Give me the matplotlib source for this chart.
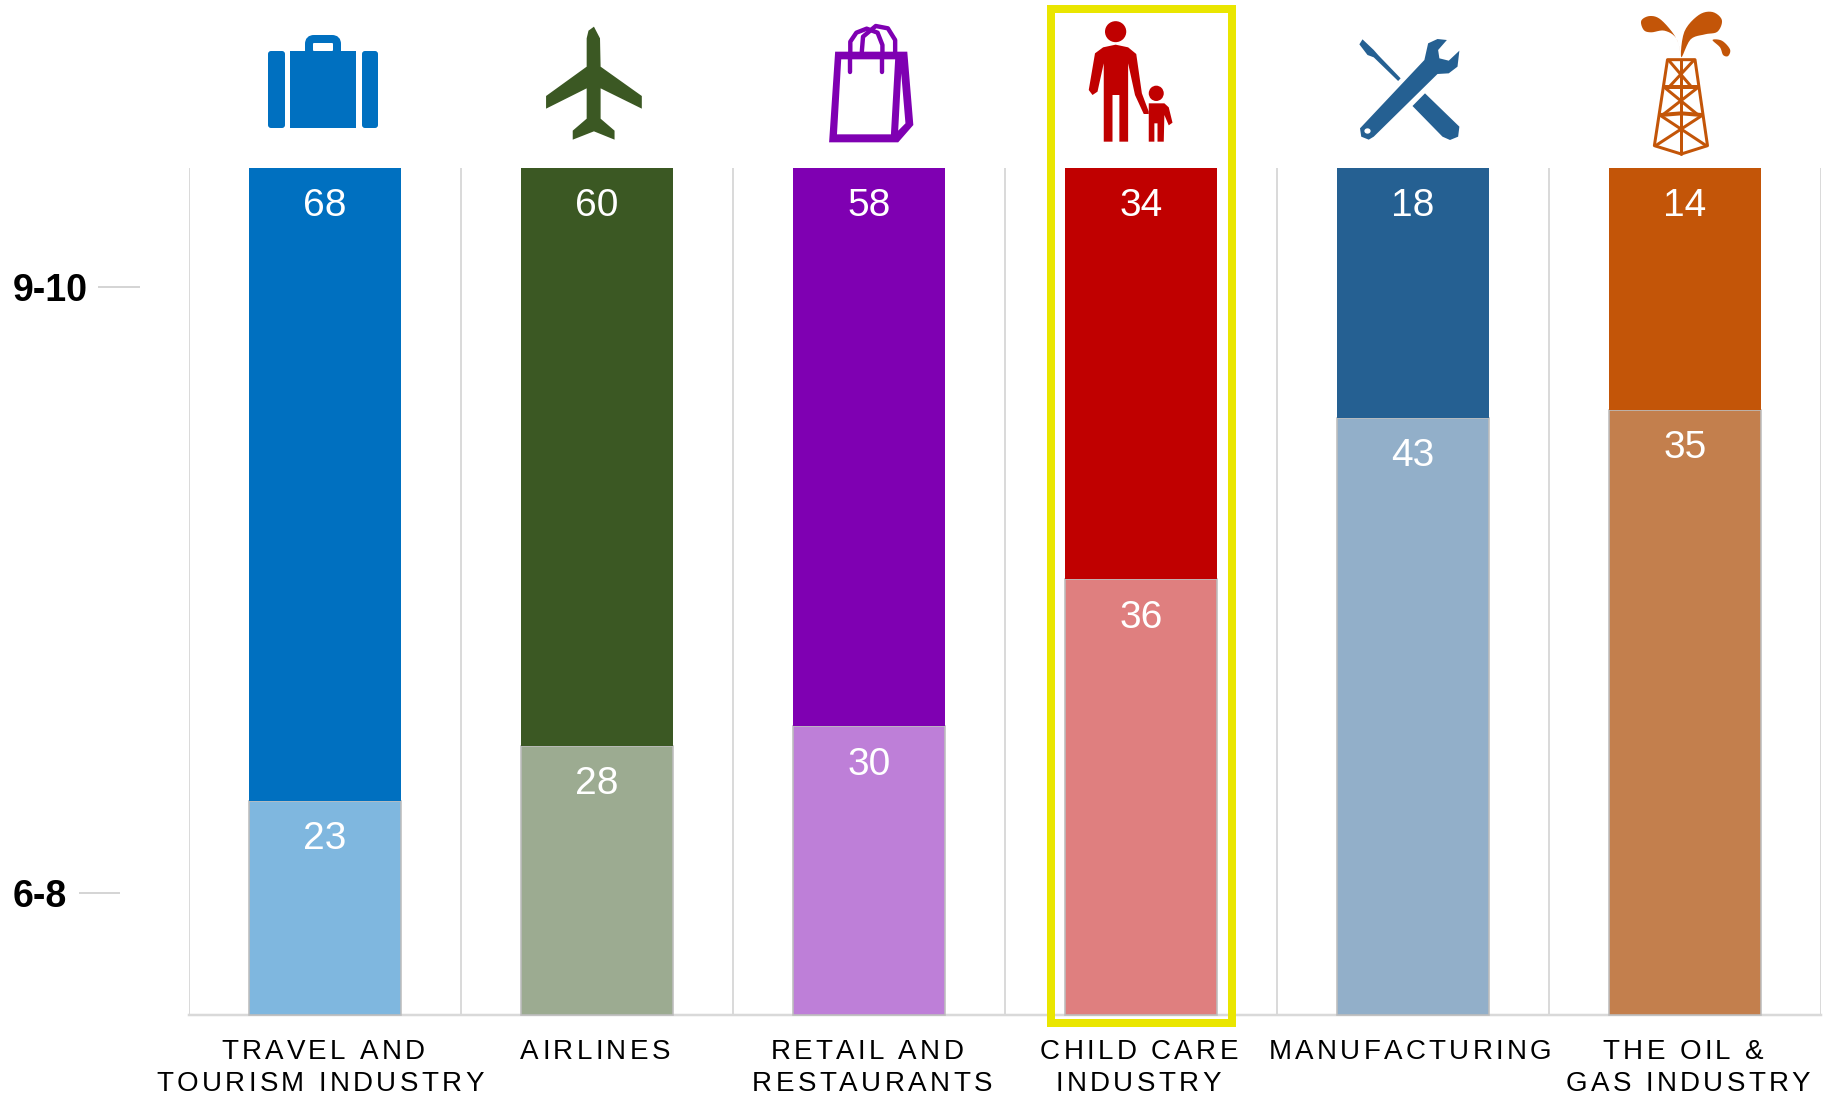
import numpy as np
import matplotlib
matplotlib.use("Agg")
import matplotlib.pyplot as plt
import matplotlib.font_manager as fm
from matplotlib.font_manager import FontProperties
from matplotlib.ft2font import LoadFlags
from matplotlib.patches import Ellipse, FancyBboxPatch, Polygon, Rectangle
from matplotlib.text import Text
from matplotlib.transforms import Bbox, blended_transform_factory

categories = ["TRAVEL AND\nTOURISM INDUSTRY", "AIRLINES", "RETAIL AND\nRESTAURANTS",
              "CHILD CARE\nINDUSTRY", "MANUFACTURING", "THE OIL &\nGAS INDUSTRY"]
scores_9_10 = [68, 60, 58, 34, 18, 14]
scores_6_8 = [23, 28, 30, 36, 43, 35]
top_colors = ["#0070C0", "#3B5823", "#7F00B2", "#C00000", "#256092", "#C35508"]
low_colors = ["#7FB7DF", "#9CAB91", "#BE7FD8", "#DF7F7F", "#92AFC9", "#C37F4D"]
band_labels = ["9-10", "6-8"]
band_positions = [86.0, 14.4]
band_tick_px = [(98, 140), (79, 120)]

W, H = 1829, 1093
DPI = 100
PX = 72 / DPI
FONT = "Liberation Sans"


class SpacedText(Text):
    """A single text artist drawn with letter spacing (pixels)."""

    def __init__(self, *args, tracking=0.0, line_px=32.0, shifts=None, **kw):
        super().__init__(*args, **kw)
        self.tracking = tracking
        self.line_px = line_px
        self.shifts = shifts or {}

    def _advances(self, line):
        font = fm.get_font(fm.findfont(self.get_fontproperties()))
        font.set_size(self.get_fontsize(), DPI)
        out = []
        for ch in line:
            g = font.load_char(ord(ch), flags=LoadFlags.NO_HINTING)
            out.append(g.linearHoriAdvance / 65536 + self.tracking)
        return out

    def draw(self, renderer):
        x0, y0 = self.get_transform().transform(self.get_position())
        for n, line in enumerate(self.get_text().split("\n")):
            adv = self._advances(line)
            x = x0 - (sum(adv) - self.tracking) / 2 + self.shifts.get(n, 0)
            y = y0 - n * self.line_px
            for ch, a in zip(line, adv):
                if ch != " ":
                    t = Text(x, y, ch, color=self.get_color(), fontproperties=self.get_fontproperties(),
                             ha="left", va="baseline", transform=None)
                    t.set_figure(self.get_figure())
                    t.draw(renderer)
                x += a

    def get_window_extent(self, renderer=None, dpi=None):
        x0, y0 = self.get_transform().transform(self.get_position())
        lines = self.get_text().split("\n")
        w = max(sum(self._advances(l)) for l in lines)
        size = self.get_fontsize() / PX
        return Bbox([[x0 - w / 2, y0 - (len(lines) - 1) * self.line_px],
                     [x0 + w / 2, y0 + 0.75 * size]])


fig = plt.figure(figsize=(W / DPI, H / DPI), dpi=DPI, facecolor="white")
L, R, T, B = 189, 1821, 168, 1015
ax = fig.add_axes([L / W, 1 - B / H, (R - L) / W, (B - T) / H])
over = fig.add_axes([0, 0, 1, 1], zorder=5)
over.set_xlim(0, W)
over.set_ylim(H, 0)
over.axis("off")
over.patch.set_alpha(0)

x = np.arange(len(categories))
tot = np.array(scores_9_10) + np.array(scores_6_8)
low = np.array(scores_6_8) / tot * 100
high = np.array(scores_9_10) / tot * 100
BAR = 0.561

ax.bar(x, low, BAR, color=low_colors, edgecolor="#BDBDBD", linewidth=1.6 * PX, zorder=3, clip_on=False)
ax.bar(x, high, BAR, bottom=low, color=top_colors, linewidth=0, zorder=4)
ax.set_xlim(-0.5, len(x) - 0.5)
ax.set_ylim(0, 100)
ax.set_xticks(np.arange(-0.5, len(x)))
ax.set_yticks([])
ax.tick_params(length=0, labelbottom=False)
ax.grid(axis="x", color="#D6D6D6", linewidth=1.8 * PX, zorder=1)
for s in ax.spines.values():
    s.set_visible(False)
ax.axhline(0, color="#D9D9D9", linewidth=2.5 * PX, zorder=2, clip_on=False)

offset = -38.5 * PX
for i in x:
    for val, top in ((scores_9_10[i], 100), (scores_6_8[i], low[i])):
        ax.annotate(str(val), (i, top), xytext=(0, offset), textcoords="offset points",
                    ha="center", va="center", color="white", family=FONT, fontsize=28, zorder=6)

# band labels and their short ticks
tr = blended_transform_factory(over.transData, ax.transData)
for lab, pos, (x1, x2) in zip(band_labels, band_positions, band_tick_px):
    over.text(13, pos, lab, transform=tr, ha="left", va="center_baseline",
              family=FONT, fontweight="bold", fontsize=27, color="black")
    over.plot([x1, x2], [pos, pos], transform=tr, color="#C8C8C8", lw=1.5 * PX, solid_capstyle="butt")

# category labels, letter spaced
prop = FontProperties(family=FONT, size=20)
line_shifts = [{0: -2, 1: -5}, {0: -2}, {0: -2, 1: 3}, {0: -2, 1: -3}, {0: -3}, {0: -2, 1: 3}]
tx = blended_transform_factory(ax.transData, over.transData)
for i, c in enumerate(categories):
    st = SpacedText(i, 1059, c, tracking=3.3, line_px=32, shifts=line_shifts[i], ha="center",
                    color="black", fontproperties=prop, transform=tx)
    over.add_artist(st)

# highlight frame
over.add_patch(Rectangle((1051.4, 9), 180.2, 1013.7, fill=False, edgecolor="#EAE600",
                         linewidth=8 * PX, joinstyle="miter", zorder=7))


# --- pictograms (pixel space) ---
def z2(pts):
    return [(zx / 1.65, zy / 3) for zx, zy in pts]


def z1(pts):
    return [(850 + zx / 1.6, zy / 3) for zx, zy in pts]


def smooth(pts, n=8):
    p = np.array(pts, float)
    m = len(p)
    out = []
    for i in range(m):
        a, b, c, d = p[(i - 1) % m], p[i], p[(i + 1) % m], p[(i + 2) % m]
        for t in np.linspace(0, 1, n, endpoint=False):
            out.append(0.5 * ((2 * b) + (c - a) * t + (2 * a - 5 * b + 4 * c - d) * t ** 2
                              + (3 * b - a - 3 * c + d) * t ** 3))
    return out


def poly(pts, color, z=6):
    over.add_patch(Polygon(pts, closed=True, facecolor=color, edgecolor="none", zorder=z))


def stroke(pts, color, w, closed=False):
    over.add_patch(Polygon(pts, closed=closed, fill=False, edgecolor=color, linewidth=w * PX,
                           joinstyle="round", capstyle="round", zorder=6))


# suitcase
c = top_colors[0]
for (x0, x1, y0, y1) in [(268, 285, 51, 128), (362, 378, 51, 128)]:
    over.add_patch(FancyBboxPatch((x0 + 3, y0 + 3), x1 - x0 - 6, y1 - y0 - 6,
                                  boxstyle="round,pad=3,rounding_size=3", fc=c, ec="none", zorder=6))
over.add_patch(Rectangle((290, 51), 66, 77, fc=c, ec="none", zorder=6))
over.add_patch(FancyBboxPatch((313, 43), 20, 8, boxstyle="round,pad=4,rounding_size=5",
                              fc="none", ec=c, lw=8 * PX, zorder=6))
over.add_patch(Rectangle((300, 51), 46, 8, fc=c, ec="none", zorder=6.1))

# plane
poly(z2([(980, 80), (990, 115), (991, 200), (1059, 288), (1059, 326), (991, 265), (991, 356),
         (1014, 392), (1014, 419), (980, 394), (945, 419), (945, 392), (968, 356), (968, 265),
         (901, 326), (901, 288), (968, 200), (968, 115), (971, 92)]), top_colors[1])

# shopping bag
c = top_colors[2]
for pts in ([(1403, 215), (1403, 125), (1413, 98), (1430, 86), (1448, 98), (1456, 135), (1456, 215)],
            [(1422, 155), (1424, 110), (1445, 78), (1465, 85), (1477, 120), (1477, 155)]):
    stroke(z2(pts), c, 4.4)
poly(z2([(1378, 155), (1497, 155), (1507, 375), (1482, 427), (1368, 427)]), c)
poly(z2([(1388, 178), (1477, 178), (1470, 403), (1381, 403)]), "white", 6.1)
poly(z2([(1487, 220), (1494, 370), (1482, 392)]), "white", 6.1)
for pts in ([(1403, 178), (1403, 215)], [(1456, 178), (1456, 215)]):
    over.add_patch(Polygon(z2(pts), closed=False, fill=False, edgecolor=c, linewidth=4.4 * PX,
                           capstyle="round", zorder=6.2))

# adult and child
c = top_colors[3]
over.add_patch(Ellipse((850 + 425 / 1.6, 95 / 3), 34 / 1.6, 63 / 3, fc=c, ec="none", zorder=6))
poly(z1([(392, 160), (405, 142), (425, 134), (445, 142), (458, 162), (467, 280), (478, 335),
         (478, 342), (470, 342), (456, 285), (445, 190), (445, 425), (431, 425), (431, 285),
         (420, 285), (420, 425), (406, 425), (406, 190), (396, 275), (388, 285), (382, 270)]), c)
over.add_patch(Ellipse((850 + 490 / 1.6, 280 / 3), 24 / 1.6, 46 / 3, fc=c, ec="none", zorder=6))
poly(z1([(478, 310), (503, 310), (510, 322), (516, 368), (510, 376), (503, 345), (502, 425),
         (492, 425), (492, 370), (487, 370), (487, 425), (478, 425)]), c)

# tools
c = top_colors[4]
poly(z1([(820, 118), (838, 150), (845, 165), (881, 235), (877, 243), (838, 172), (828, 165), (815, 133)]), c)
poly(z1([(955, 120), (940, 117), (925, 130), (919, 180), (816, 385), (818, 410), (830, 419), (838, 410),
         (940, 222), (958, 220), (972, 200), (975, 152), (958, 182), (943, 175), (941, 150)]), c)
poly(z1([(920, 280), (975, 380), (973, 410), (960, 420), (948, 410), (900, 318)]), c)
over.add_patch(Ellipse((850 + 828 / 1.6, 393 / 3), 10 / 1.6, 16 / 3, fc="white", ec="none", zorder=6.1))

# oil derrick
c = top_colors[5]
poly(z1(smooth([(1330, 172), (1322, 115), (1298, 60), (1280, 48), (1266, 62), (1270, 90),
                (1282, 97), (1303, 92), (1322, 115)], 6)), c)
poly(z1(smooth([(1330, 172), (1335, 95), (1358, 45), (1380, 36), (1395, 60), (1388, 95),
                (1368, 103), (1345, 118)], 6)), c)
poly(z1(smooth([(1380, 120), (1395, 122), (1408, 148), (1405, 168), (1397, 165), (1392, 142)], 6)), c)
lw = 3.0
stroke(z1([(1308, 179), (1352, 179), (1372, 437), (1330, 462), (1287, 437)]), c, lw, closed=True)
stroke(z1([(1304, 262), (1356, 262)]), c, lw + 1)
stroke(z1([(1297, 345), (1330, 340), (1363, 345)]), c, lw + 1)
stroke(z1([(1330, 179), (1330, 462)]), c, lw)
for a, b in [((1310, 181), (1347, 262)), ((1350, 181), (1310, 262)), ((1305, 265), (1357, 345)),
             ((1355, 265), (1300, 345)), ((1298, 348), (1370, 437)), ((1362, 348), (1289, 437))]:
    stroke(z1([a, b]), c, lw)

fig.savefig("out.png", dpi=DPI, facecolor="white")
